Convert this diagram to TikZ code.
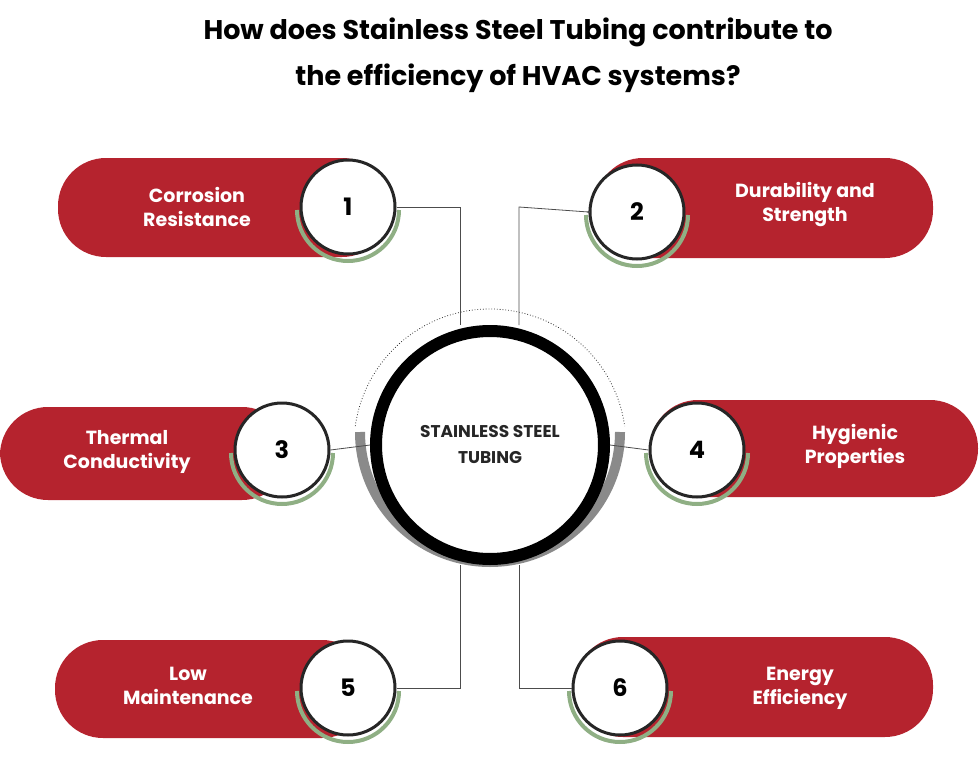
\documentclass[tikz,border=0pt]{standalone}
\usepackage{fontspec}
\setmainfont{Poppins}
\usetikzlibrary{positioning}
\definecolor{pillred}{HTML}{B5232E}
\definecolor{ringgreen}{HTML}{8FAF84}
\definecolor{ringgray}{HTML}{8A8A8A}
\tikzset{
  pill/.style={fill=pillred, rounded corners=48pt},
  pilltext/.style={text=white, font=\bfseries\fontsize{19}{24}\selectfont, align=center},
  numcirc/.style={circle, draw=black!85, line width=3pt, fill=white, minimum size=94pt, font=\bfseries\fontsize{24}{28}\selectfont},
  link/.style={draw=black!70, line width=0.8pt},
}
\begin{document}
\begin{tikzpicture}[x=1pt,y=-1pt]
\useasboundingbox (0,0) rectangle (980,776);

% title
\node (title) at (518,55) [font=\bfseries\fontsize{27}{46}\selectfont, align=center]
  {How does Stainless Steel Tubing contribute to\\the efficiency of HVAC systems?};

% red pills
\fill [pill] (58,158) rectangle (390,257);
\fill [pill] (595,158) rectangle (933,258);
\fill [pill] (0,407) rectangle (290,500);
\fill [pill] (650,400) rectangle (978,497);
\fill [pill] (55,640) rectangle (370,738);
\fill [pill] (575,637) rectangle (933,737);

\node (t1) at (197,207) [pilltext] {Corrosion\\Resistance};
\node (t2) at (805,205) [pilltext] {Durability and\\Strength};
\node (t3) at (127,452) [pilltext] {Thermal\\Conductivity};
\node (t4) at (855,446) [pilltext] {Hygienic\\Properties};
\node (t5) at (188,686) [pilltext] {Low\\Maintenance};
\node (t6) at (800,688) [pilltext] {Energy\\Efficiency};

% green arcs under the number circles
\foreach \cx/\cy in {348/207, 637/212, 282/450, 697/450, 348/688, 620/688}
  \draw [ringgreen, line width=4pt] (\cx-51,\cy+3) arc[start angle=180, end angle=360, radius=51pt];

% number circles
\node (n1) at (348,207) [numcirc] {1};
\node (n2) at (637,212) [numcirc] {2};
\node (n3) at (282,450) [numcirc] {3};
\node (n4) at (697,450) [numcirc] {4};
\node (n5) at (348,688) [numcirc] {5};
\node (n6) at (620,688) [numcirc] {6};

% centre
\draw [ringgray, line width=10pt] (360,432) arc[start angle=180, end angle=360, radius=130pt];
\draw [black!80, dotted, line width=0.8pt] (490,445) ++(172:136pt) arc[start angle=172, end angle=8, radius=136pt];
\node (hub) at (490,445) [circle, draw=black, line width=12pt, fill=white, minimum size=228pt,
  font=\bfseries\fontsize{17}{26}\selectfont, align=center, text=black!85] {STAINLESS STEEL\\TUBING};

% connectors
\coordinate (c1) at (460,207);
\coordinate (c2) at (519,207);
\coordinate (c5) at (460,688);
\coordinate (c6) at (519,688);
\draw [link] (n1.east) -- (c1) -- (c1 |- hub.north);
\draw [link] (n2.west) -- (c2) -- (c2 |- hub.north);
\fill [black!70] (n2.west) circle (1.5pt);
\draw [link] (n3.east) -- (hub.west);
\draw [link] (n4.west) -- (hub.east);
\draw [link] (n5.east) -- (c5) -- (c5 |- hub.south);
\draw [link] (n6.west) -- (c6) -- (c6 |- hub.south);
\end{tikzpicture}
\end{document}
